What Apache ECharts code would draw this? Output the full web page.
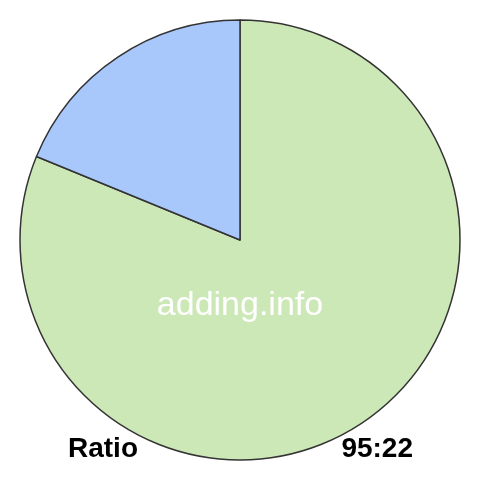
<!DOCTYPE html>
<html><head><meta charset="utf-8">
<script src="https://cdn.jsdelivr.net/npm/echarts@6/dist/echarts.min.js"></script>
<style>html,body{margin:0;padding:0;background:#fff}#c{width:480px;height:480px}</style>
</head><body><div id="c"></div>
<script>
const categories = ['A', 'B'];
const values = [95, 22];
const colors = ['#cde8b7', '#a8c8fc'];
const ratioLabel = 'Ratio';
const ratioText = '95:22';
const watermark = 'adding.info';

const chart = echarts.init(document.getElementById('c'), null, {renderer: 'canvas'});
chart.setOption({
  animation: false,
  backgroundColor: '#fff',
  series: [{
    type: 'pie',
    center: [240, 240],
    radius: [0, 220],
    startAngle: 90,
    clockwise: true,
    label: {show: false},
    labelLine: {show: false},
    emphasis: {disabled: true},
    itemStyle: {borderColor: '#333', borderWidth: 1.5},
    data: categories.map((c, i) => ({name: c, value: values[i], itemStyle: {color: colors[i]}}))
  }],
  graphic: [
    {type: 'text', z: 100, left: 'center', top: 289, style: {text: watermark, fill: '#fff', font: '34px "Liberation Sans", Arial, sans-serif'}},
    {type: 'text', z: 100, left: 68, top: 435, style: {text: ratioLabel, fill: '#000', font: 'bold 28px "Liberation Sans", Arial, sans-serif'}},
    {type: 'text', z: 100, right: 67, top: 435, style: {text: ratioText, fill: '#000', font: 'bold 28px "Liberation Sans", Arial, sans-serif'}}
  ]
});
</script></body></html>
